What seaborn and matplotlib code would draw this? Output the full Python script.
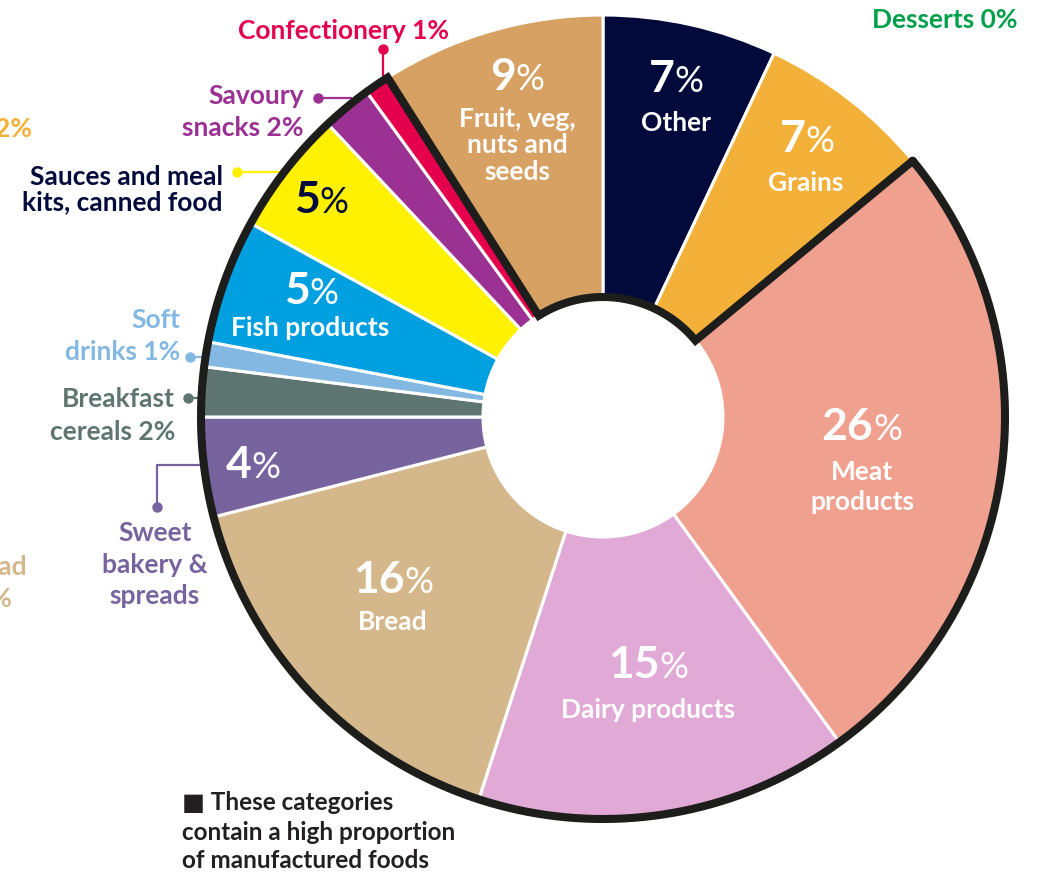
import numpy as np
import matplotlib
matplotlib.use("Agg")
import matplotlib.pyplot as plt
import seaborn as sns

# Share of food purchases by category, clockwise from 12 o'clock
categories = ["Other", "Grains", "Meat products", "Dairy products", "Bread",
              "Sweet bakery & spreads", "Breakfast cereals", "Soft drinks",
              "Fish products", "Sauces and meal kits, canned food",
              "Savoury snacks", "Confectionery", "Fruit, veg, nuts and seeds"]
shares = [7, 7, 26, 15, 16, 4, 2, 1, 5, 5, 2, 1, 9]
colors = ["#010a3a", "#f3b13a", "#f0a08f", "#e1a9d5", "#d4b78a",
          "#77639e", "#5e7571", "#83b8e2", "#009fdf", "#fff100",
          "#9b3192", "#e5004d", "#d6a162"]
desserts_share = 0
# categories with a high proportion of manufactured foods (outlined block)
manufactured = ["Meat products", "Dairy products", "Bread", "Sweet bakery & spreads",
                "Breakfast cereals", "Soft drinks", "Fish products",
                "Sauces and meal kits, canned food", "Savoury snacks", "Confectionery"]

sns.set_theme(style="white")
plt.rcParams["font.family"] = ["Lato", "DejaVu Sans"]

W, H = 1037, 872
fig = plt.figure(figsize=(W / 100, H / 100), dpi=100)
ax = fig.add_axes([0, 0, 1, 1])

def py(y):
    """Convert a top-down pixel row to data y."""
    return H - y

CX, CY = 603, py(417)
R_OUT, R_IN = 402, 120

ax.pie(shares, colors=colors, startangle=90, counterclock=False,
       center=(CX, CY), radius=R_OUT,
       wedgeprops=dict(width=R_OUT - R_IN, edgecolor="white", linewidth=2.2))

ax.set_xlim(0, W)
ax.set_ylim(0, H)
ax.set_aspect("equal")
ax.axis("off")

# thick outline round the manufactured-food block
cum = np.concatenate([[0], np.cumsum(shares)]) / sum(shares)
i0 = categories.index(manufactured[0])
i1 = categories.index(manufactured[-1])
a_start = 90 - 360 * cum[i0]      # Grains / Meat boundary
a_end = 90 - 360 * cum[i1 + 1]    # Confectionery / Fruit boundary
outer = np.radians(np.linspace(a_start, a_end, 400))
inner = np.radians(np.linspace(a_end + 360, a_start, 200))
xs = np.concatenate([CX + R_OUT * np.cos(outer), CX + R_IN * np.cos(inner)])
ys = np.concatenate([CY + R_OUT * np.sin(outer), CY + R_IN * np.sin(inner)])
xs = np.append(xs, xs[0]); ys = np.append(ys, ys[0])
ax.plot(xs, ys, color="#1d1d1b", lw=5.8, solid_joinstyle="miter", zorder=5)

val = dict(zip(categories, shares))
pct_pairs = []
NAME_SIZE = 19

def pct_label(x, y, value, color):
    t1 = ax.text(x, py(y), str(value), fontsize=32, fontweight="bold", color=color,
                 ha="right", va="baseline", zorder=6)
    t2 = ax.text(x, py(y), "%", fontsize=26, fontweight="normal", color=color,
                 ha="left", va="baseline", zorder=6)
    pct_pairs.append((t1, t2, x))

def name_label(x, y, s, color="white", ha="center", size=NAME_SIZE):
    ax.text(x, py(y), s, fontsize=size, fontweight="bold", color=color,
            ha=ha, va="baseline", zorder=6)

# labels inside the ring
pct_label(517, 90, val["Fruit, veg, nuts and seeds"], "white")
name_label(517, 127, "Fruit, veg,")
name_label(517, 153, "nuts and")
name_label(517, 180, "seeds")
pct_label(676, 92, val["Other"], "white")
name_label(676, 131, "Other")
pct_label(807, 152, val["Grains"], "white")
name_label(806, 191, "Grains")
pct_label(862, 440, val["Meat products"], "white")
name_label(862, 480, "Meat")
name_label(862, 510, "products")
pct_label(648, 678, val["Dairy products"], "white")
name_label(648, 718, "Dairy products")
pct_label(393, 593, val["Bread"], "white")
name_label(393, 630, "Bread")
pct_label(253, 478, val["Sweet bakery & spreads"], "white")
pct_label(311, 304, val["Fish products"], "white")
name_label(310, 336, "Fish products")
pct_label(321, 213, val["Sauces and meal kits, canned food"], "#010a3a")

# labels outside the ring with leader lines
def leader(points, color):
    pts = np.array(points, dtype=float)
    ax.plot(pts[:, 0], H - pts[:, 1], color=color, lw=1.6, zorder=4,
            solid_capstyle="butt")
    ax.plot(pts[0, 0], H - pts[0, 1], "o", color=color, ms=6.5, zorder=4)

c = "#e5004d"
name_label(344, 39, f"Confectionery {val['Confectionery']}%", c)
leader([(383, 49), (383, 76)], c)

c = "#9b3192"
name_label(304, 104, "Savoury", c, ha="right")
name_label(304, 136, f"snacks {val['Savoury snacks']}%", c, ha="right")
leader([(318, 98), (352, 98)], c)

c = "#010a3a"
name_label(223, 185, "Sauces and meal", c, ha="right")
name_label(223, 210, "kits, canned food", c, ha="right")
leader([(237, 172), (280, 172), (280, 182)], "#fff100")

c = "#83b8e2"
name_label(180, 328, "Soft", c, ha="right")
name_label(180, 360, f"drinks {val['Soft drinks']}%", c, ha="right")
leader([(190, 357), (211, 357)], c)

c = "#5e7571"
name_label(175, 407, "Breakfast", c, ha="right")
name_label(175, 440, f"cereals {val['Breakfast cereals']}%", c, ha="right")
leader([(188, 398), (206, 398)], c)

c = "#77639e"
name_label(155, 541, "Sweet", c)
name_label(155, 573, "bakery &", c)
name_label(155, 604, "spreads", c)
leader([(157, 507), (157, 465), (208, 465)], c)

name_label(1018, 28, f"Desserts {desserts_share}%", "#00a04b", ha="right")

# labels running off the left edge
name_label(32, 137, "2%", "#f3b13a", ha="right")
name_label(28, 575, "Bread", "#d4b78a", ha="right")
name_label(12, 607, "1%", "#d4b78a", ha="right")

# footnote
for yy, s in [(810, "■ These categories"), (840, "contain a high proportion"),
              (868, "of manufactured foods")]:
    name_label(182, yy, s, "#231f20", ha="left", size=17.5)

# centre each number + % pair on its anchor
fig.canvas.draw()
inv = ax.transData.inverted()
r = fig.canvas.get_renderer()
for t1, t2, x in pct_pairs:
    b1 = t1.get_window_extent(r); b2 = t2.get_window_extent(r)
    w1 = inv.transform((b1.x1, 0))[0] - inv.transform((b1.x0, 0))[0]
    w2 = inv.transform((b2.x1, 0))[0] - inv.transform((b2.x0, 0))[0]
    xj = x + (w1 - w2) / 2
    t1.set_x(xj); t2.set_x(xj)

fig.savefig("out.png", dpi=100)
